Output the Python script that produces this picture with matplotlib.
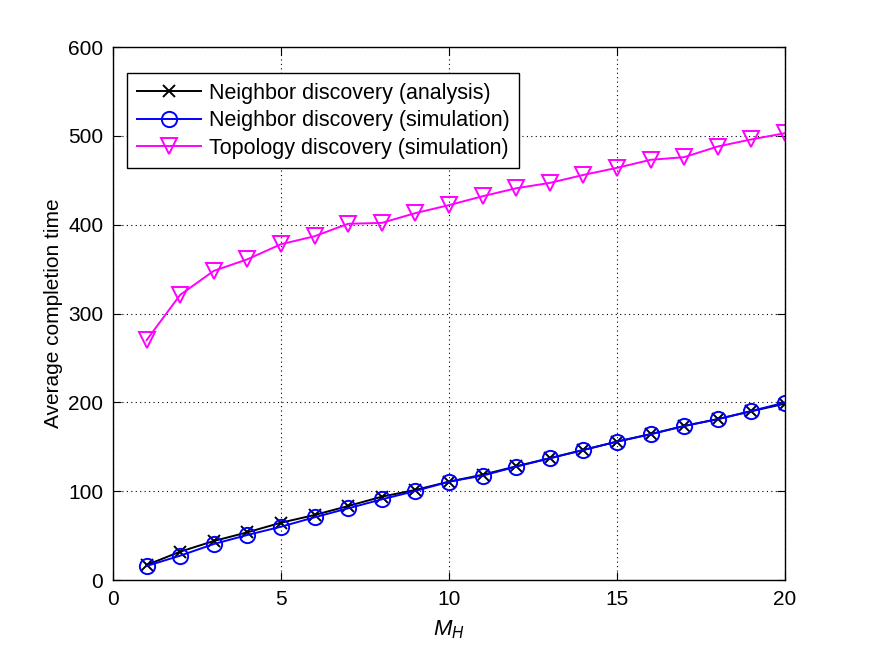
import matplotlib
matplotlib.use('Agg')
import matplotlib.pyplot as plt

plt.rcParams['font.family'] = ['Liberation Sans', 'DejaVu Sans']
plt.rcParams['mathtext.fontset'] = 'custom'
plt.rcParams['mathtext.it'] = 'Liberation Sans:italic'
plt.rcParams['mathtext.rm'] = 'Liberation Sans'

m_h = list(range(1, 21))
nd_analysis = [16.9, 31.9, 43.9, 53.7, 64.5, 73.2, 83.3, 93.8, 101.4, 110.7,
               118.5, 128.0, 137.2, 146.4, 155.8, 164.3, 173.4, 181.2, 190.0, 198.5]
nd_simulation = [15.8, 27.4, 40.5, 50.7, 60.0, 70.6, 80.7, 90.8, 100.2, 110.7,
                 117.5, 127.6, 137.0, 146.4, 155.8, 164.0, 173.4, 181.0, 190.3, 199.8]
td_simulation = [270, 321, 348, 361, 378, 387, 401, 402, 413, 422,
                 432, 441, 447, 456, 464, 473, 476, 488, 496, 503]

fig = plt.figure(figsize=(8.69, 6.52), dpi=100)
ax = fig.add_axes([0.13, 0.1104, 0.7733, 0.8175])

ax.plot(m_h, nd_analysis, color='black', marker='x', markersize=9, mew=1.4, lw=1.4,
        label='Neighbor discovery (analysis)')
ax.plot(m_h, nd_simulation, color='#0000ff', marker='o', markersize=11, mfc='none',
        mew=1.4, lw=1.4, label='Neighbor discovery (simulation)')
ax.plot(m_h, td_simulation, color='#ff00ff', marker='v', markersize=12, mfc='none',
        mew=1.4, lw=1.4, label='Topology discovery (simulation)')

ax.set_xlim(0, 20)
ax.set_ylim(0, 600)
ax.set_xticks([0, 5, 10, 15, 20])
ax.set_yticks(range(0, 601, 100))
ax.grid(True, linestyle=(0, (1, 3)), color='black', linewidth=0.8)
ax.tick_params(direction='in', top=True, right=True, labelsize=15, length=6, pad=7)
for s in ax.spines.values():
    s.set_linewidth(1.0)

ax.set_xlabel('$M_H$', fontsize=16, labelpad=7)
ax.set_ylabel('Average completion time', fontsize=15, labelpad=4)

leg = ax.legend(loc='upper left', bbox_to_anchor=(0.021, 0.951), fontsize=15.5,
                fancybox=False, framealpha=1, edgecolor='black', borderaxespad=0,
                handlelength=3.0, labelspacing=0.3, borderpad=0.45, handletextpad=0.35)
leg.get_frame().set_linewidth(1.0)

plt.savefig('out.png', dpi=100)
